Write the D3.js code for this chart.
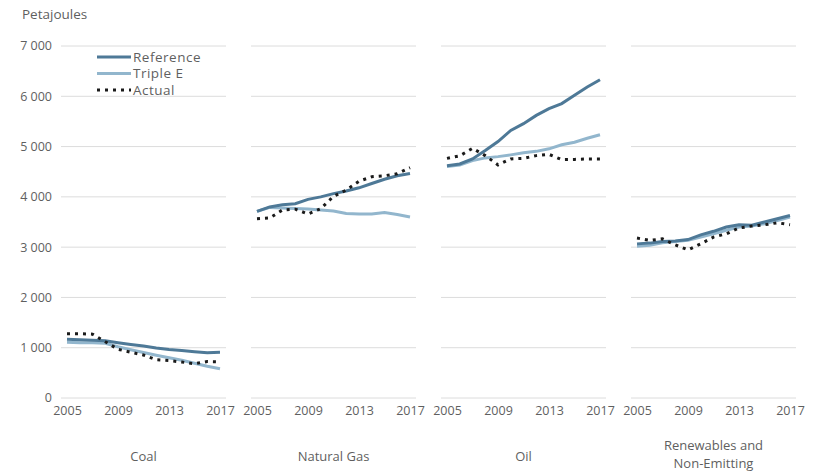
<!DOCTYPE html>
<html>
<head>
<meta charset="utf-8">
<script src="https://cdn.jsdelivr.net/npm/d3@7"></script>
<style>
  html, body { margin: 0; padding: 0; background: #fff; }
  svg { display: block; }
  text { font-family: "Open Sans", Lato, sans-serif; fill: #5f5f5f; }
</style>
</head>
<body>
<svg id="chart" width="813" height="471"></svg>
<script>
// Energy demand by fuel, petajoules, 2005-2017
const years = [2005, 2006, 2007, 2008, 2009, 2010, 2011, 2012, 2013, 2014, 2015, 2016, 2017];
const yearTicks = [2005, 2009, 2013, 2017];
const fuels = ["Coal", "Natural Gas", "Oil", "Renewables and Non-Emitting"];
const fuelLabels = [["Coal"], ["Natural Gas"], ["Oil"], ["Renewables and", "Non-Emitting"]];
const valueTicks = [0, 1000, 2000, 3000, 4000, 5000, 6000, 7000];
const seriesNames = ["Reference", "Triple E", "Actual"];

const referenceCoal = [1170, 1160, 1150, 1140, 1100, 1065, 1035, 995, 965, 945, 920, 900, 910];
const tripleECoal   = [1110, 1100, 1100, 1090, 1020, 960, 905, 850, 800, 750, 690, 630, 580];
const actualCoal    = [1280, 1280, 1270, 1120, 970, 910, 855, 760, 745, 715, 680, 725, 720];

const referenceGas = [3710, 3800, 3845, 3865, 3950, 4000, 4065, 4115, 4180, 4265, 4350, 4420, 4465];
const tripleEGas   = [3710, 3790, 3780, 3770, 3760, 3740, 3720, 3670, 3660, 3660, 3690, 3650, 3600];
const actualGas    = [3565, 3580, 3740, 3755, 3660, 3765, 4010, 4135, 4310, 4400, 4420, 4460, 4580];

const referenceOil = [4620, 4655, 4755, 4920, 5100, 5320, 5455, 5620, 5755, 5855, 6020, 6185, 6330];
const tripleEOil   = [4605, 4635, 4720, 4775, 4800, 4835, 4875, 4905, 4955, 5035, 5085, 5165, 5235];
const actualOil    = [4765, 4815, 4965, 4820, 4635, 4755, 4765, 4820, 4845, 4740, 4745, 4755, 4755];

const referenceRen = [3065, 3080, 3110, 3120, 3150, 3245, 3315, 3400, 3445, 3435, 3500, 3565, 3630];
const tripleERen   = [3020, 3035, 3085, 3110, 3135, 3200, 3265, 3335, 3400, 3420, 3465, 3530, 3600];
const actualRen    = [3180, 3135, 3165, 3045, 2945, 3065, 3200, 3265, 3380, 3420, 3445, 3485, 3445];

const referenceSeries = [referenceCoal, referenceGas, referenceOil, referenceRen];
const tripleESeries   = [tripleECoal, tripleEGas, tripleEOil, tripleERen];
const actualSeries    = [actualCoal, actualGas, actualOil, actualRen];

const colors = { "Reference": "#4e7997", "Triple E": "#92b6cd", "Actual": "#1a1a1a" };

const svg = d3.select("#chart");

const y = d3.scaleLinear().domain([0, 7000]).range([398, 46]);

// one panel per fuel
const panel = d3.scaleBand()
  .domain(fuels)
  .range([61, 61 + 190 * 4 - 25])
  .paddingInner(25 / 190);

const x = d3.scalePoint().domain(years).range([6, panel.bandwidth() - 6]);

const fmt = v => d3.format(",")(v).replace(",", " ");

// unit label
svg.append("text").attr("x", 22).attr("y", 19)
  .attr("font-size", 13.5).text("Petajoules");

// value axis labels
svg.append("g").selectAll("text").data(valueTicks).join("text")
  .attr("x", 52).attr("y", d => y(d)).attr("dy", "0.35em")
  .attr("text-anchor", "end").attr("font-size", 12.5).attr("fill", "#6a6a6a")
  .text(fmt);

const line = d3.line().x((d, i) => x(years[i])).y(d => y(d));

fuels.forEach((fuel, k) => {
  const g = svg.append("g").attr("transform", `translate(${panel(fuel)},0)`);

  // gridlines
  g.append("g").selectAll("line").data(valueTicks).join("line")
    .attr("x1", 0).attr("x2", panel.bandwidth())
    .attr("y1", d => y(d)).attr("y2", d => y(d))
    .attr("stroke", "#dcdcdc").attr("stroke-width", 1);

  // year labels
  const ax = d3.axisBottom(x).tickValues(yearTicks).tickSize(0).tickPadding(0);
  const axg = g.append("g").attr("transform", "translate(0,404)").call(ax);
  axg.select(".domain").remove();
  axg.selectAll("text").attr("font-size", 12.5).attr("fill", "#6a6a6a")
    .attr("font-family", "'Open Sans', sans-serif").attr("dy", "0.85em");

  // fuel label, one text per line
  const lbl = fuelLabels[k];
  const cx = panel.bandwidth() / 2;
  const ty = lbl.length === 1 ? 461 : 450;
  g.append("g").selectAll("text").data(lbl).join("text")
    .attr("x", cx).attr("y", (d, i) => ty + i * 17.5)
    .attr("text-anchor", "middle").attr("font-size", 13)
    .text(d => d);

  g.append("path").datum(tripleESeries[k]).attr("d", line)
    .attr("fill", "none").attr("stroke", colors["Triple E"]).attr("stroke-width", 3);
  g.append("path").datum(referenceSeries[k]).attr("d", line)
    .attr("fill", "none").attr("stroke", colors["Reference"]).attr("stroke-width", 3);
  g.append("path").datum(actualSeries[k]).attr("d", line)
    .attr("fill", "none").attr("stroke", colors["Actual"]).attr("stroke-width", 3)
    .attr("stroke-dasharray", "3,5");
});

// legend
const legend = svg.append("g");
seriesNames.forEach((name, i) => {
  const ly = 57 + i * 16.5;
  legend.append("line").attr("x1", 97).attr("x2", 131).attr("y1", ly).attr("y2", ly)
    .attr("stroke", colors[name]).attr("stroke-width", 3)
    .attr("stroke-dasharray", name === "Actual" ? "3,5" : null);
  legend.append("text").attr("x", 133).attr("y", ly).attr("dy", "0.35em")
    .attr("font-size", 13.5).attr("letter-spacing", "0.5px").text(name);
});
</script>
</body>
</html>
